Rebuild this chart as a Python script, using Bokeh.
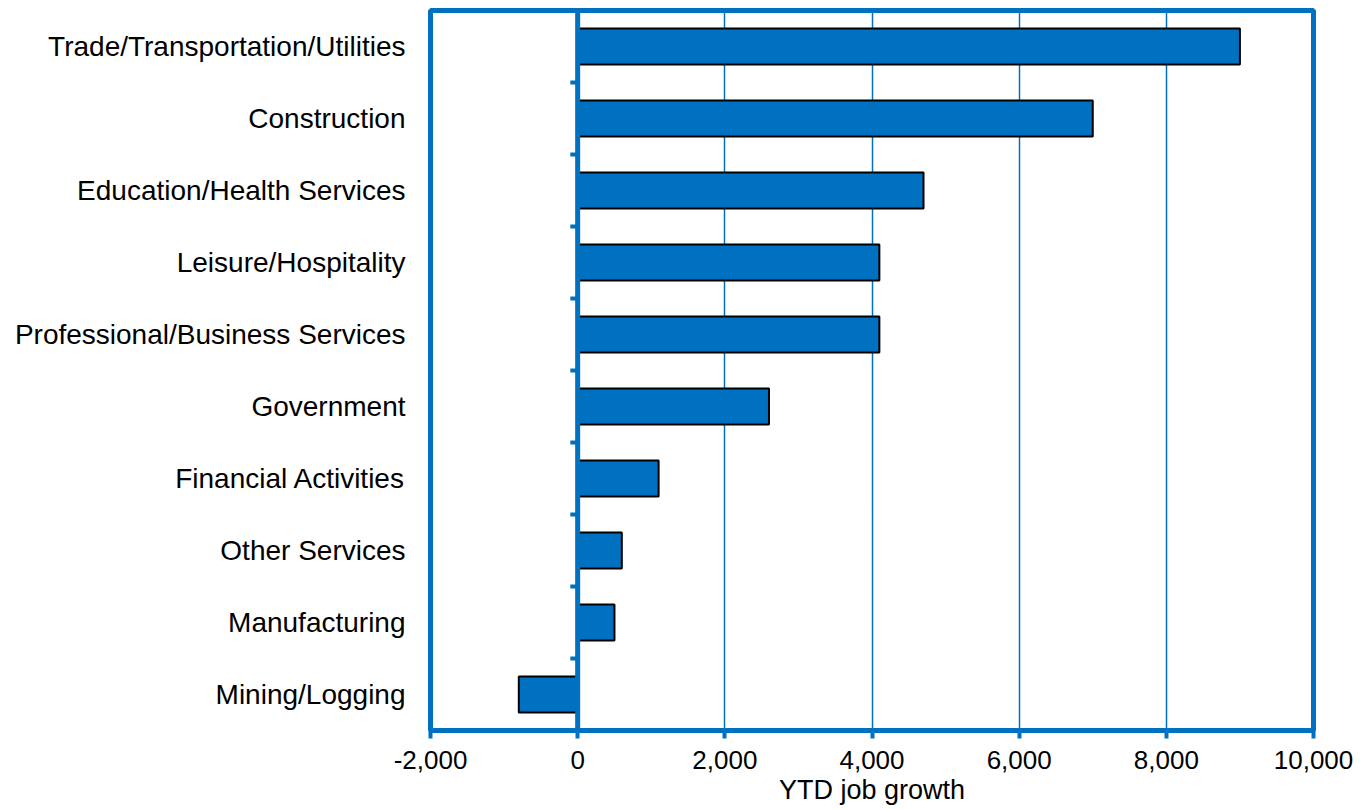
from bokeh.plotting import figure
from bokeh.models import FixedTicker, NumeralTickFormatter, Span, Range1d, ColumnDataSource
from bokeh.embed import file_html
from bokeh.resources import INLINE

# Data (top to bottom as shown)
categories = [
    "Trade/Transportation/Utilities",
    "Construction",
    "Education/Health Services",
    "Leisure/Hospitality",
    "Professional/Business Services",
    "Government",
    "Financial Activities",
    "Other Services",
    "Manufacturing",
    "Mining/Logging",
]
values = [9000, 7000, 4700, 4100, 4100, 2600, 1100, 600, 500, -800]
x_ticks = [-2000, 0, 2000, 4000, 6000, 8000, 10000]
x_title = "YTD job growth"

BLUE = "#0070C0"
FONT = "Liberation Sans"

factors = list(reversed(categories))
p = figure(
    y_range=factors,
    x_range=Range1d(x_ticks[0], x_ticks[-1]),
    width=1362, height=809,
    min_border_left=430, min_border_right=49,
    min_border_top=10, min_border_bottom=79,
    output_backend="svg", toolbar_location=None,
)

src = ColumnDataSource(dict(cat=categories, val=values))
p.hbar(y="cat", left=0, right="val", height=0.5, source=src,
       fill_color=BLUE, line_color="black", line_width=2)

# category boundary ticks on the zero line
n = len(factors)
bounds = [i for i in range(n + 1)]
p.segment(x0=[-100] * len(bounds), x1=[0] * len(bounds), y0=bounds, y1=bounds,
          line_color=BLUE, line_width=4)

p.add_layout(Span(location=0, dimension="height", line_color=BLUE, line_width=5))

p.outline_line_color = BLUE
p.outline_line_width = 5
p.outline_line_alpha = 1

p.ygrid.grid_line_color = None
p.xgrid.ticker = FixedTicker(ticks=x_ticks)
p.xgrid.grid_line_color = BLUE
p.xgrid.grid_line_width = 1.5

xa = p.xaxis[0]
xa.ticker = FixedTicker(ticks=x_ticks)
xa.formatter = NumeralTickFormatter(format="0,0")
xa.axis_line_color = BLUE
xa.axis_line_width = 5
xa.major_tick_line_color = BLUE
xa.major_tick_line_width = 4
xa.major_tick_out = 8
xa.major_tick_in = 0
xa.minor_tick_line_color = None
xa.major_label_text_font = FONT
xa.major_label_text_font_size = "26px"
xa.major_label_text_color = "black"
xa.major_label_standoff = 12
xa.axis_label = x_title
xa.axis_label_text_font = FONT
xa.axis_label_text_font_size = "27px"
xa.axis_label_text_font_style = "normal"
xa.axis_label_text_color = "black"
xa.axis_label_standoff = 3

ya = p.yaxis[0]
ya.axis_line_color = None
ya.major_tick_line_color = None
ya.minor_tick_line_color = None
ya.major_label_text_font = FONT
ya.major_label_text_font_size = "28px"
ya.major_label_text_color = "black"
ya.major_label_standoff = 19

open("out.html", "w").write(file_html(p, INLINE))
